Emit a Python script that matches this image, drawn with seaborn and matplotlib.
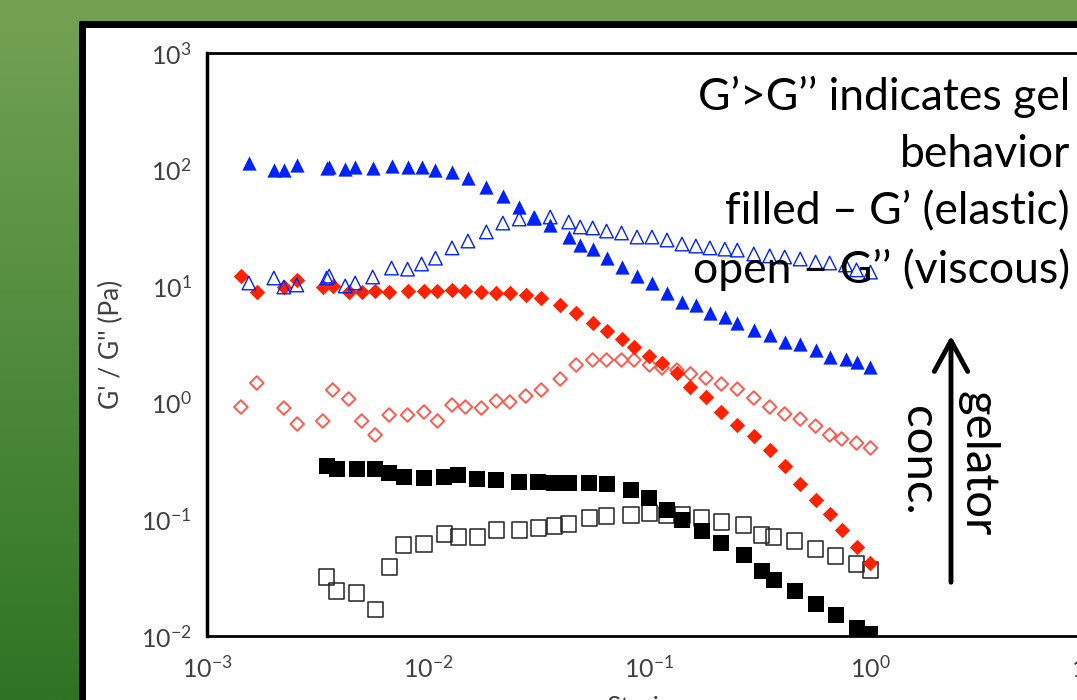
import matplotlib
matplotlib.use("Agg")
import matplotlib.pyplot as plt
import matplotlib.patches as mpatches
from matplotlib.colors import LinearSegmentedColormap
from matplotlib.ticker import LogLocator, NullLocator
import numpy as np
import seaborn as sns

# strain and moduli (Pa)
strain_blue = [0.001547, 0.002007, 0.002226, 0.00255, 0.00348, 0.00357, 0.00422, 0.00468,
               0.00562, 0.00684, 0.00808, 0.00935, 0.01081, 0.01284, 0.01516, 0.01837,
               0.02181, 0.02588, 0.03025, 0.03573, 0.04331, 0.04882, 0.05559, 0.06428,
               0.07511, 0.08826, 0.1031, 0.1206, 0.141, 0.163, 0.1886, 0.2204, 0.2509,
               0.2979, 0.3518, 0.4111, 0.4831, 0.5675, 0.6567, 0.775, 0.869, 1.005]
g1_blue = [113.9, 99.2, 99.2, 109.5, 103.2, 105.3, 101.2, 105.3, 103.2, 107.4, 105.3, 105.3,
           99.2, 95.4, 84.7, 70.9, 59.4, 47.8, 38.5, 33.5, 26.4, 22.6, 20.8, 17.4, 14.6,
           12.2, 10.65, 8.74, 7.32, 6.90, 5.89, 5.44, 4.83, 4.21, 3.82, 3.32, 3.19, 2.84,
           2.47, 2.37, 2.24, 2.03]
g2_blue = [10.65, 11.76, 9.84, 10.24, 11.76, 12.2, 10.04, 10.65, 11.99, 14.3, 14.0, 15.5,
           17.4, 21.3, 24.4, 29.2, 34.8, 37.7, 38.5, 39.2, 35.5, 32.2, 31.6, 29.7, 28.6,
           26.4, 26.4, 24.9, 23.0, 22.1, 21.3, 20.8, 20.4, 18.9, 18.2, 17.8, 17.1, 16.1,
           15.8, 15.2, 13.8, 13.2]

strain_red = [0.001424, 0.00168, 0.002226, 0.00256, 0.00334, 0.003705, 0.004375, 0.00501,
              0.005765, 0.00667, 0.00808, 0.00959, 0.01104, 0.01284, 0.01477, 0.01744,
              0.02039, 0.02345, 0.02769, 0.03255, 0.03963, 0.04682, 0.05559, 0.06428,
              0.07511, 0.08555, 0.1005, 0.1145, 0.1338, 0.154, 0.1809, 0.2125, 0.2509,
              0.2979, 0.3518, 0.4111, 0.4831, 0.5675, 0.6567, 0.7436, 0.869, 1.005]
g1_red = [12.24, 8.92, 9.84, 11.30, 9.84, 10.04, 8.92, 8.92, 9.10, 8.92, 9.10, 9.10, 9.10,
          9.28, 9.10, 8.92, 8.74, 8.74, 8.40, 7.92, 6.90, 5.89, 4.83, 4.13, 3.53, 3.01,
          2.52, 2.19, 1.80, 1.37, 1.12, 0.834, 0.645, 0.519, 0.394, 0.287, 0.201, 0.1467,
          0.1112, 0.0811, 0.058, 0.0423]
g2_red = [0.920, 1.478, 0.902, 0.658, 0.698, 1.288, 1.078, 0.698, 0.530, 0.786, 0.786, 0.834,
          0.698, 0.957, 0.920, 0.902, 1.036, 1.016, 1.144, 1.288, 1.60, 2.11, 2.33, 2.33,
          2.33, 2.33, 2.11, 1.99, 1.91, 1.77, 1.63, 1.45, 1.31, 1.10, 0.920, 0.801, 0.726,
          0.632, 0.530, 0.489, 0.452, 0.410]

strain_black = [0.00348, 0.003864, 0.004755, 0.005765, 0.00667, 0.00775, 0.00959, 0.01187,
                0.01373, 0.01673, 0.02039, 0.02588, 0.03155, 0.03725, 0.04331, 0.05358,
                0.06428, 0.08295, 0.1005, 0.1206, 0.141, 0.1735, 0.2125, 0.2685, 0.3237,
                0.3667, 0.4561, 0.5675, 0.6985, 0.869, 1.005]
g1_black = [0.287, 0.2706, 0.2706, 0.2706, 0.250, 0.231, 0.2265, 0.231, 0.2403, 0.222, 0.2177,
            0.2093, 0.2093, 0.2052, 0.2052, 0.2052, 0.201, 0.1787, 0.1526, 0.1204, 0.0988,
            0.0795, 0.0627, 0.0495, 0.0361, 0.0302, 0.0243, 0.0188, 0.0151, 0.0117, 0.0104]
g2_black = [0.0321, 0.0243, 0.0234, 0.0170, 0.0391, 0.0603, 0.0615, 0.0749, 0.0707, 0.0707,
            0.0811, 0.0811, 0.0844, 0.0878, 0.0913, 0.1028, 0.1069, 0.1091, 0.1135, 0.1091,
            0.1091, 0.1028, 0.0950, 0.0895, 0.0735, 0.0707, 0.0653, 0.0557, 0.0486, 0.0414,
            0.0368]

notes = ["G’>G’’ indicates gel", "behavior", "filled – G’ (elastic)", "open – G’’ (viscous)"]

sns.set_style("white")
plt.rcParams["font.family"] = ["Lato", "DejaVu Sans"]

fig = plt.figure(figsize=(10.77, 7.0), dpi=100)

# green slide background
bg = fig.add_axes([0, 0, 1, 1], zorder=-10)
green = LinearSegmentedColormap.from_list("g", ["#74a255", "#2e7424"])
bg.imshow(np.linspace(0, 1, 256).reshape(-1, 1), cmap=green, aspect="auto",
          extent=[0, 1, 0, 1], origin="upper")
bg.set_axis_off()

# white panel with black frame
frame = mpatches.Rectangle((81.5 / 1077, -0.2), 1.2, 1.2 - 23.5 / 700,
                           transform=fig.transFigure, facecolor="white",
                           edgecolor="black", linewidth=5, zorder=0)
fig.add_artist(frame)

ax = fig.add_axes([207 / 1077, 64 / 700, 884 / 1077, 583 / 700], zorder=5)
ax.set_facecolor("none")

blue, red, red_open = "#0022ff", "#ff2200", "#ff5a50"

sns.scatterplot(x=strain_black, y=g2_black, marker="s", s=120, color="black",
                facecolor="none", edgecolor="#222222", linewidth=1.1, ax=ax)
sns.scatterplot(x=strain_black, y=g1_black, marker="s", s=125, color="black",
                edgecolor="black", linewidth=0, ax=ax)
sns.scatterplot(x=strain_red, y=g2_red, marker="D", s=48, color=red_open,
                facecolor="none", edgecolor=red_open, linewidth=1.4, ax=ax)
sns.scatterplot(x=strain_red, y=g1_red, marker="D", s=62, color=red,
                edgecolor=red, linewidth=0, ax=ax)
sns.scatterplot(x=strain_blue, y=g2_blue, marker="^", s=95, color=blue,
                facecolor="none", edgecolor=blue, linewidth=1.0, ax=ax)
sns.scatterplot(x=strain_blue, y=g1_blue, marker="^", s=105, color=blue,
                edgecolor=blue, linewidth=0, ax=ax)

ax.set_xscale("log")
ax.set_yscale("log")
ax.set_xlim(1e-3, 1e1)
ax.set_ylim(1e-2, 1e3)
ax.xaxis.set_major_locator(LogLocator(base=10, numticks=10))
ax.yaxis.set_major_locator(LogLocator(base=10, numticks=10))
ax.xaxis.set_minor_locator(NullLocator())
ax.yaxis.set_minor_locator(NullLocator())
ax.tick_params(which="major", direction="in", length=5, width=2, color="black",
               labelsize=18, labelcolor="#404040")
ax.tick_params(axis="x", pad=14)
ax.tick_params(axis="y", pad=11)
for side in ["left", "bottom", "top", "right"]:
    ax.spines[side].set_visible(True)
    ax.spines[side].set_color("black")
    ax.spines[side].set_linewidth(2)
ax.spines["left"].set_linewidth(2.5)

ax.set_ylabel("G' / G'' (Pa)", fontsize=19, color="#404040")
ax.yaxis.set_label_coords(-0.094, 0.5)
ax.set_xlabel("Strain", fontsize=19, color="#404040")
ax.xaxis.set_label_coords(0.49, -0.103)

# notes at top right
for i, line in enumerate(notes):
    fig.text(1070 / 1077, 1 - (97 + 57.5 * i) / 700, line, ha="right", va="center",
             fontsize=32, color="black", zorder=10)

# gelator concentration arrow
fig.add_artist(mpatches.FancyArrowPatch((951 / 1077, 1 - 585 / 700), (951 / 1077, 1 - 333 / 700),
                                        transform=fig.transFigure,
                                        arrowstyle="->,head_length=1.1,head_width=0.6",
                                        mutation_scale=20, linewidth=3.5, color="black", zorder=10))
fig.text(965 / 1077, 1 - 464 / 700, "gelator", rotation=-90, rotation_mode="anchor",
         ha="center", va="baseline", fontsize=34, color="black", zorder=10)
fig.text(905 / 1077, 1 - 461 / 700, "conc.", rotation=-90, rotation_mode="anchor",
         ha="center", va="baseline", fontsize=34, color="black", zorder=10)

fig.savefig("out.png", dpi=100)
